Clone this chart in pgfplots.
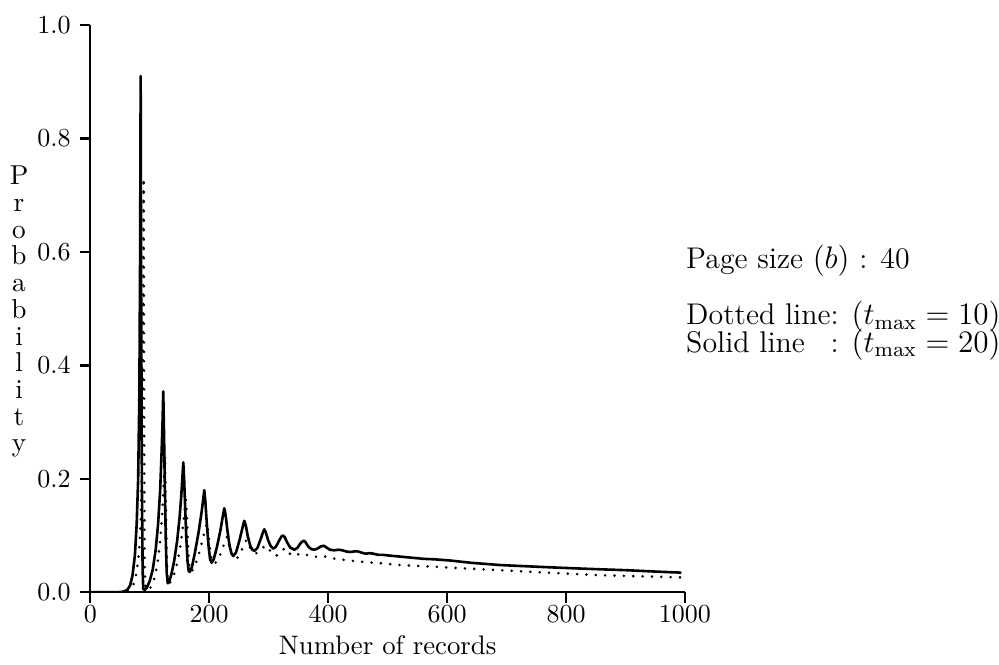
\documentclass[border=0pt]{standalone}
\usepackage{pgfplots}
\pgfplotsset{compat=1.18}

% Probability that a file of n records needs a given number of pages,
% page size b = 40, for two values of t_max
\pgfplotstableread{
x y
0 0
45 0
55 0.001
62 0.004
67 0.012
71 0.03
75 0.065
78 0.12
80.5 0.2
82.5 0.35
83.8 0.6
84.7 0.91
85.5 0.55
86.7 0.2
88 0.04
89 0.006
91 0.004
95 0.008
100 0.02
105 0.04
110 0.075
114 0.12
117.5 0.18
120 0.25
121.5 0.3
122.7 0.354
124 0.28
125.5 0.18
127 0.09
128.5 0.035
130.2 0.016
132 0.017
136 0.03
141 0.055
146 0.09
150 0.13
153 0.17
155 0.205
156.4 0.229
157.8 0.2
159.5 0.15
161.5 0.095
163.5 0.055
165.5 0.037
167.5 0.036
171 0.045
176 0.07
182 0.105
187 0.14
190 0.165
191.7 0.18
193.5 0.16
196 0.12
199 0.08
201.5 0.058
204 0.052
207.5 0.058
213 0.08
219 0.11
223 0.135
225.3 0.148
227.5 0.137
230.5 0.11
234 0.083
237.5 0.068
240.5 0.064
245 0.07
251 0.092
256 0.114
258.9 0.126
261.5 0.118
265 0.098
269 0.082
272.5 0.075
276 0.073
281 0.078
287 0.095
290.5 0.106
292.6 0.111
295 0.106
299 0.092
303 0.082
307.5 0.077
312 0.08
318 0.092
322 0.099
324.5 0.1
327 0.097
331 0.088
336 0.079
343 0.075
348 0.078
354 0.087
357.5 0.09
359.3 0.091
362 0.088
367 0.08
372 0.076
377 0.075
382 0.077
388 0.081
392.9 0.082
397 0.079
403 0.075
410 0.074
418 0.075
424 0.074
430 0.072
437 0.071
444 0.072
450 0.072
456 0.07
463 0.068
470 0.069
476 0.068
484 0.066
492 0.066
500 0.065
510 0.064
520 0.063
540 0.061
560 0.059
580 0.058
605 0.056
640 0.052
689 0.048
720 0.0465
773 0.044
820 0.042
857 0.0405
900 0.039
950 0.0365
994 0.0346
}\solidtmax

\pgfplotstableread{
x y
0 0
50 0
60 0.001
67 0.005
73 0.015
78 0.035
82 0.07
85 0.13
87 0.25
88.5 0.45
89.7 0.73
90.5 0.35
91.3 0.05
92.5 0.006
96 0.004
102 0.009
108 0.025
113 0.05
117 0.085
120.5 0.13
123 0.18
124.7 0.225
125.6 0.24
126.8 0.17
128.2 0.08
129.6 0.03
131.5 0.016
135 0.018
141 0.032
147 0.055
152 0.085
156 0.118
159 0.147
160.9 0.163
162.5 0.13
164.5 0.075
166.5 0.045
169 0.036
173 0.04
180 0.058
187 0.085
192 0.106
195.5 0.119
196.7 0.122
198.5 0.105
201.5 0.075
204.5 0.056
208 0.05
213 0.054
220 0.07
226 0.088
229 0.096
230.4 0.098
233 0.09
237 0.072
241 0.06
245 0.058
250 0.064
257 0.08
261 0.09
263 0.092
266 0.086
270 0.075
275 0.069
280 0.069
287 0.076
293 0.081
296.6 0.082
300 0.077
305 0.069
311 0.064
316 0.066
322 0.073
327.4 0.078
331 0.074
337 0.066
343 0.064
350 0.067
357 0.069
362 0.067
368 0.064
375 0.062
382 0.063
392 0.064
400 0.061
420 0.058
453 0.054
490 0.051
520 0.048
560 0.046
600 0.0437
650 0.041
689 0.039
750 0.0355
800 0.033
857 0.030
900 0.0288
950 0.0275
1000 0.026
}\dottedtmax

\begin{document}
\begin{tikzpicture}
\path[use as bounding box] (-34.73pt,-27.96pt) rectangle (349.5pt,227.8pt);
\begin{axis}[
  scale only axis,
  width=228.7pt, height=218.2pt,
  xmin=0, xmax=1000, ymin=0, ymax=1,
  axis lines=left,
  axis line style={-, line width=0.9pt},
  tick align=outside,
  major tick length=4pt,
  every tick/.style={black, line width=0.9pt},
  xtick={0,200,400,600,800,1000},
  ytick={0,0.2,0.4,0.6,0.8,1},
  yticklabel style={/pgf/number format/.cd, fixed, fixed zerofill, precision=1},
  xticklabel style={/pgf/number format/1000 sep={}, inner sep=1pt},
  xlabel={Number of records},
  xlabel style={at={(axis description cs:0.5,0)}, anchor=base, yshift=-24.1pt,
    inner sep=0pt, font=\fontsize{10.3}{12}\selectfont},
]
\addplot[black, line width=1pt, line join=round] table[x=x, y=y] {\solidtmax};
\addplot[black, line width=1.1pt, line cap=round, line join=round,
  dash pattern=on 0pt off 3.6pt] table[x=x, y=y] {\dottedtmax};
\end{axis}

% vertical axis title, one letter per line
\foreach \c [count=\i from 0] in {P,r,o,b,a,b,i,l,i,t,y}
  \node[anchor=base, inner sep=0pt, font=\fontsize{10.5}{12}\selectfont]
    at (-27.4pt, {156.7pt-\i*10.27pt}) {\c};

% annotation
\begin{scope}[every node/.style={anchor=base west, inner sep=0pt,
    font=\fontsize{11.5}{14}\selectfont}]
  \node at (229pt,124.7pt) {Page size $(b)$ : 40};
  \node at (229pt,102.8pt) {Dotted line: $(t_{\max}=10)$};
  \node at (229pt,92.4pt) {\rlap{Solid line}\phantom{Dotted line}: $(t_{\max}=20)$};
\end{scope}
\end{tikzpicture}
\end{document}
